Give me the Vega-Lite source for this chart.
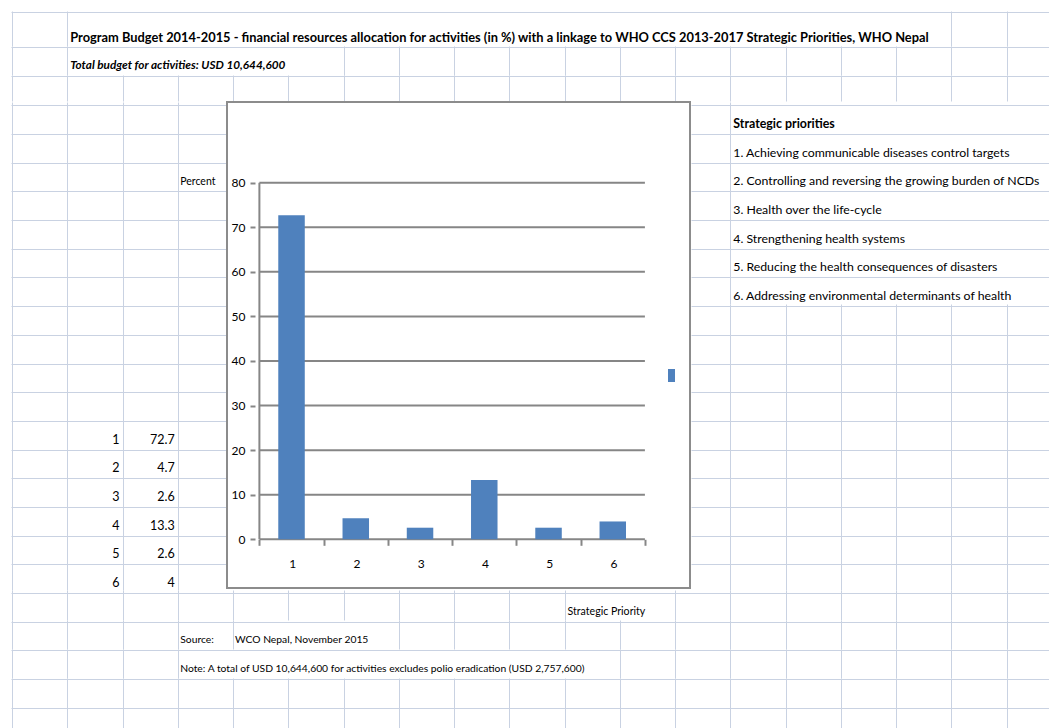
{
  "$schema": "https://vega.github.io/schema/vega-lite/v6.json",
  "background": "#ffffff",
  "padding": {"left": 11, "top": 11, "right": 0, "bottom": 0},
  "spacing": 0,
  "datasets": {
    "sp": [
      {"priority": 1, "percent": 72.7, "label": "1. Achieving communicable diseases control targets"},
      {"priority": 2, "percent": 4.7, "label": "2. Controlling and reversing the growing burden of NCDs"},
      {"priority": 3, "percent": 2.6, "label": "3. Health over the life-cycle"},
      {"priority": 4, "percent": 13.3, "label": "4. Strengthening health systems"},
      {"priority": 5, "percent": 2.6, "label": "5. Reducing the health consequences of disasters"},
      {"priority": 6, "percent": 4, "label": "6. Addressing environmental determinants of health"}
    ],
    "pctGrid": [{"v": 0}, {"v": 10}, {"v": 20}, {"v": 30}, {"v": 40}, {"v": 50}, {"v": 60}, {"v": 70}, {"v": 80}]
  },
  "vconcat": [
    {
      "width": 1038, "height": 35,
      "data": {"values": [{"t": "Program Budget 2014-2015 - financial resources allocation for activities (in %)  with a linkage to WHO CCS 2013-2017 Strategic Priorities, WHO Nepal"}]},
      "mark": {"type": "text", "align": "left", "baseline": "alphabetic", "dx": 3, "dy": -5.5, "fontWeight": "bold", "fontSize": 12.85},
      "encoding": {
        "x": {"datum": 1, "type": "quantitative", "scale": {"domain": [-0.0181, 18.7692], "nice": false, "zero": false}, "axis": {"values": [0, 1, 17, 18], "title": null, "grid": true, "labels": false, "ticks": false, "domain": false}},
        "y": {"datum": -2, "type": "quantitative", "scale": {"domain": [-3.2566, -2.0363], "nice": false, "zero": false, "reverse": true}, "axis": {"values": [-3.2218], "title": null, "grid": true, "labels": false, "ticks": false, "domain": false}},
        "text": {"field": "t", "type": "nominal"}
      }
    },
    {
      "width": 1038, "height": 29,
      "data": {"values": [{"t": "Total budget for activities: USD 10,644,600"}]},
      "mark": {"type": "text", "align": "left", "baseline": "alphabetic", "dx": 3, "dy": -6.5, "fontWeight": "bold", "fontStyle": "italic", "fontSize": 11.75},
      "encoding": {
        "x": {"datum": 1, "type": "quantitative", "scale": {"domain": [-0.0181, 18.7692], "nice": false, "zero": false}, "axis": {"values": [0, 1, 6, 7, 8, 9, 10, 11, 12, 13, 14, 15, 16, 17, 18], "title": null, "grid": true, "labels": false, "ticks": false, "domain": false}},
        "y": {"datum": -1, "type": "quantitative", "scale": {"domain": [-2.0363, -1.0251], "nice": false, "zero": false, "reverse": true}, "axis": {"values": [-2], "title": null, "grid": true, "labels": false, "ticks": false, "domain": false}},
        "text": {"field": "t", "type": "nominal"}
      }
    },
    {
      "width": 1038, "height": 26,
      "data": {"values": []},
      "mark": "point",
      "encoding": {
        "x": {"field": "a", "type": "quantitative", "scale": {"domain": [-0.0181, 18.7692], "nice": false, "zero": false}, "axis": {"values": [0, 1, 2, 3, 4, 5, 6, 7, 8, 9, 10, 11, 12, 13, 14, 15, 16, 17, 18], "title": null, "grid": true, "labels": false, "ticks": false, "domain": false}},
        "y": {"field": "b", "type": "quantitative", "scale": {"domain": [-1.0251, -0.1185], "nice": false, "zero": false, "reverse": true}, "axis": {"values": [-1], "title": null, "grid": true, "labels": false, "ticks": false, "domain": false}}
      }
    },
    {
      "spacing": 0,
      "hconcat": [
        {
          "width": 215, "height": 488,
          "layer": [
            {
              "data": {"name": "sp"},
              "mark": {"type": "text", "align": "right", "baseline": "alphabetic", "dx": -3, "dy": -6, "fontSize": 12.5},
              "encoding": {
                "x": {"datum": 2, "type": "quantitative", "scale": {"domain": [-0.0181, 3.8733], "nice": false, "zero": false}, "axis": {"values": [0, 1, 2, 3], "title": null, "grid": true, "labels": false, "ticks": false, "domain": false}},
                "y": {"field": "priority", "type": "quantitative", "scale": {"domain": [-11.1185, 5.8968], "nice": false, "zero": false, "reverse": true}, "axis": {"values": [-11, -10, -9, -8, -7, -6, -5, -4, -3, -2, -1, 0, 1, 2, 3, 4, 5], "title": null, "grid": true, "labels": false, "ticks": false, "domain": false}},
                "text": {"field": "priority", "type": "nominal"}
              }
            },
            {
              "data": {"name": "sp"},
              "mark": {"type": "text", "align": "right", "baseline": "alphabetic", "dx": -3, "dy": -6, "fontSize": 12.5},
              "encoding": {
                "x": {"datum": 3, "type": "quantitative", "scale": {"domain": [-0.0181, 3.8733], "nice": false, "zero": false}, "axis": {"values": [0, 1, 2, 3], "title": null, "grid": true, "labels": false, "ticks": false, "domain": false}},
                "y": {"field": "priority", "type": "quantitative", "scale": {"domain": [-11.1185, 5.8968], "nice": false, "zero": false, "reverse": true}, "axis": {"values": [-11, -10, -9, -8, -7, -6, -5, -4, -3, -2, -1, 0, 1, 2, 3, 4, 5], "title": null, "grid": true, "labels": false, "ticks": false, "domain": false}},
                "text": {"field": "percent", "type": "nominal"}
              }
            },
            {
              "data": {"values": [{"t": "Percent"}]},
              "mark": {"type": "text", "align": "left", "baseline": "alphabetic", "dx": 2.5, "dy": -6, "fontSize": 10.5},
              "encoding": {
                "x": {"datum": 3, "type": "quantitative", "scale": {"domain": [-0.0181, 3.8733], "nice": false, "zero": false}, "axis": {"values": [0, 1, 2, 3], "title": null, "grid": true, "labels": false, "ticks": false, "domain": false}},
                "y": {"datum": -8, "type": "quantitative", "scale": {"domain": [-11.1185, 5.8968], "nice": false, "zero": false, "reverse": true}, "axis": {"values": [-11, -10, -9, -8, -7, -6, -5, -4, -3, -2, -1, 0, 1, 2, 3, 4, 5], "title": null, "grid": true, "labels": false, "ticks": false, "domain": false}},
                "text": {"field": "t", "type": "nominal"}
              }
            }
          ]
        },
        {
          "width": 463, "height": 486,
          "view": {"stroke": "#8c8c8c", "strokeWidth": 2, "fill": "#ffffff"},
          "layer": [
            {
              "data": {"name": "pctGrid"},
              "mark": {"type": "rule", "color": "#868686", "strokeWidth": 2},
              "encoding": {
                "y": {"field": "v", "type": "quantitative", "scale": {"domain": [-10.925, 98.1], "nice": false, "zero": false},
                  "axis": {"orient": "left", "offset": -28, "values": [0, 10, 20, 30, 40, 50, 60, 70, 80], "grid": false, "domain": false, "ticks": true, "tickSize": 5, "tickColor": "#868686", "tickWidth": 2, "labels": true, "labelPadding": 5, "labelFontSize": 12, "labelColor": "#000000", "labelFlush": false, "labelOverlap": false, "title": null}},
                "x": {"datum": 0.5, "type": "quantitative", "scale": {"domain": [0.07362, 7.124], "nice": false, "zero": false},
                  "axis": {"orient": "bottom", "offset": -48.7, "values": [0.5, 1.5, 2.5, 3.5, 4.5, 5.5, 6.5], "grid": false, "domain": false, "ticks": true, "tickSize": 6, "tickColor": "#868686", "tickWidth": 2, "labels": true, "labelExpr": "datum.value < 6 ? format(datum.value + 0.5, 'd') : ''", "labelOffset": 32.8, "labelPadding": 13, "labelFontSize": 12, "labelColor": "#000000", "labelFlush": false, "labelOverlap": false, "title": null}},
                "x2": {"datum": 6.5}
              }
            },
            {
              "data": {"values": [{}]},
              "mark": {"type": "rule", "color": "#868686", "strokeWidth": 2},
              "encoding": {
                "x": {"datum": 0.5, "type": "quantitative", "scale": {"domain": [0.07362, 7.124], "nice": false, "zero": false},
                  "axis": {"orient": "bottom", "offset": -48.7, "values": [0.5, 1.5, 2.5, 3.5, 4.5, 5.5, 6.5], "grid": false, "domain": false, "ticks": true, "tickSize": 6, "tickColor": "#868686", "tickWidth": 2, "labels": true, "labelExpr": "datum.value < 6 ? format(datum.value + 0.5, 'd') : ''", "labelOffset": 32.8, "labelPadding": 13, "labelFontSize": 12, "labelColor": "#000000", "labelFlush": false, "labelOverlap": false, "title": null}},
                "y": {"datum": 0, "type": "quantitative", "scale": {"domain": [-10.925, 98.1], "nice": false, "zero": false},
                  "axis": {"orient": "left", "offset": -28, "values": [0, 10, 20, 30, 40, 50, 60, 70, 80], "grid": false, "domain": false, "ticks": true, "tickSize": 5, "tickColor": "#868686", "tickWidth": 2, "labels": true, "labelPadding": 5, "labelFontSize": 12, "labelColor": "#000000", "labelFlush": false, "labelOverlap": false, "title": null}},
                "y2": {"datum": 80}
              }
            },
            {
              "data": {"name": "sp"},
              "mark": {"type": "bar", "size": 26.5},
              "encoding": {
                "x": {"field": "priority", "type": "quantitative", "scale": {"domain": [0.07362, 7.124], "nice": false, "zero": false},
                  "axis": {"orient": "bottom", "offset": -48.7, "values": [0.5, 1.5, 2.5, 3.5, 4.5, 5.5, 6.5], "grid": false, "domain": false, "ticks": true, "tickSize": 6, "tickColor": "#868686", "tickWidth": 2, "labels": true, "labelExpr": "datum.value < 6 ? format(datum.value + 0.5, 'd') : ''", "labelOffset": 32.8, "labelPadding": 13, "labelFontSize": 12, "labelColor": "#000000", "labelFlush": false, "labelOverlap": false, "title": null}},
                "y": {"field": "percent", "type": "quantitative", "scale": {"domain": [-10.925, 98.1], "nice": false, "zero": false},
                  "axis": {"orient": "left", "offset": -28, "values": [0, 10, 20, 30, 40, 50, 60, 70, 80], "grid": false, "domain": false, "ticks": true, "tickSize": 5, "tickColor": "#868686", "tickWidth": 2, "labels": true, "labelPadding": 5, "labelFontSize": 12, "labelColor": "#000000", "labelFlush": false, "labelOverlap": false, "title": null}},
                "color": {"datum": " ", "scale": {"range": ["#4f81bd"]},
                  "legend": {"orient": "none", "legendX": 654, "legendY": 358, "title": null, "padding": 0, "symbolType": "M-0.54,-1H0.54V1H-0.54Z", "symbolSize": 169, "symbolStrokeWidth": 0, "labelExpr": "''"}}
              }
            }
          ]
        },
        {
          "spacing": 0,
          "vconcat": [
            {
              "width": 358, "height": 202,
              "layer": [
                {
                  "data": {"values": [{"t": "Strategic priorities"}]},
                  "mark": {"type": "text", "align": "left", "baseline": "alphabetic", "dx": 3, "dy": -6.5, "fontWeight": "bold", "fontSize": 12.4},
                  "encoding": {
                    "x": {"datum": 13, "type": "quantitative", "scale": {"domain": [12.2896, 18.7692], "nice": false, "zero": false}, "axis": {"values": [13], "title": null, "grid": true, "labels": false, "ticks": false, "domain": false}},
                    "y": {"datum": 0, "type": "quantitative", "scale": {"domain": [-1.1185, 5.9247], "nice": false, "zero": false, "reverse": true}, "axis": {"values": [-1, 0, 1, 2, 3, 4, 5], "title": null, "grid": true, "labels": false, "ticks": false, "domain": false}},
                    "text": {"field": "t", "type": "nominal"}
                  }
                },
                {
                  "data": {"name": "sp"},
                  "mark": {"type": "text", "align": "left", "baseline": "alphabetic", "dx": 3, "dy": -6, "fontSize": 12.3},
                  "encoding": {
                    "x": {"datum": 13, "type": "quantitative", "scale": {"domain": [12.2896, 18.7692], "nice": false, "zero": false}, "axis": {"values": [13], "title": null, "grid": true, "labels": false, "ticks": false, "domain": false}},
                    "y": {"field": "priority", "type": "quantitative", "scale": {"domain": [-1.1185, 5.9247], "nice": false, "zero": false, "reverse": true}, "axis": {"values": [-1, 0, 1, 2, 3, 4, 5], "title": null, "grid": true, "labels": false, "ticks": false, "domain": false}},
                    "text": {"field": "label", "type": "nominal"}
                  }
                }
              ]
            },
            {
              "width": 358, "height": 286,
              "data": {"values": []},
              "mark": "point",
              "encoding": {
                "x": {"field": "a", "type": "quantitative", "scale": {"domain": [12.2896, 18.7692], "nice": false, "zero": false}, "axis": {"values": [13, 14, 15, 16, 17, 18], "title": null, "grid": true, "labels": false, "ticks": false, "domain": false}},
                "y": {"field": "b", "type": "quantitative", "scale": {"domain": [6.9247, 16.8968], "nice": false, "zero": false, "reverse": true}, "axis": {"values": [7, 8, 9, 10, 11, 12, 13, 14, 15, 16], "title": null, "grid": true, "labels": false, "ticks": false, "domain": false}}
              }
            }
          ]
        }
      ]
    },
    {
      "width": 1038, "height": 30,
      "data": {"values": [{"t": "Strategic Priority"}]},
      "mark": {"type": "text", "align": "left", "baseline": "alphabetic", "dx": 3, "dy": -6.5, "fontSize": 10.6},
      "encoding": {
        "x": {"datum": 10, "type": "quantitative", "scale": {"domain": [-0.0181, 18.7692], "nice": false, "zero": false}, "axis": {"values": [0, 1, 2, 3, 4, 5, 6, 7, 8, 9, 10, 12, 13, 14, 15, 16, 17, 18], "title": null, "grid": true, "labels": false, "ticks": false, "domain": false}},
        "y": {"datum": 18, "type": "quantitative", "scale": {"domain": [16.8968, 17.9428], "nice": false, "zero": false, "reverse": true}, "axis": {"values": [17], "title": null, "grid": true, "labels": false, "ticks": false, "domain": false}},
        "text": {"field": "t", "type": "nominal"}
      }
    },
    {
      "width": 1038, "height": 29,
      "layer": [
        {
          "data": {"values": [{"t": "Source:"}]},
          "mark": {"type": "text", "align": "left", "baseline": "alphabetic", "dx": 2.5, "dy": -7, "fontSize": 10.3},
          "encoding": {
            "x": {"datum": 3, "type": "quantitative", "scale": {"domain": [-0.0181, 18.7692], "nice": false, "zero": false}, "axis": {"values": [0, 1, 2, 3, 4, 7, 8, 9, 10, 11, 12, 13, 14, 15, 16, 17, 18], "title": null, "grid": true, "labels": false, "ticks": false, "domain": false}},
            "y": {"datum": 19, "type": "quantitative", "scale": {"domain": [17.9428, 18.954], "nice": false, "zero": false, "reverse": true}, "axis": {"values": [18], "title": null, "grid": true, "labels": false, "ticks": false, "domain": false}},
            "text": {"field": "t", "type": "nominal"}
          }
        },
        {
          "data": {"values": [{"t": "WCO Nepal, November 2015"}]},
          "mark": {"type": "text", "align": "left", "baseline": "alphabetic", "dx": 2, "dy": -7, "fontSize": 10.3},
          "encoding": {
            "x": {"datum": 4, "type": "quantitative", "scale": {"domain": [-0.0181, 18.7692], "nice": false, "zero": false}, "axis": {"values": [0, 1, 2, 3, 4, 7, 8, 9, 10, 11, 12, 13, 14, 15, 16, 17, 18], "title": null, "grid": true, "labels": false, "ticks": false, "domain": false}},
            "y": {"datum": 19, "type": "quantitative", "scale": {"domain": [17.9428, 18.954], "nice": false, "zero": false, "reverse": true}, "axis": {"values": [18], "title": null, "grid": true, "labels": false, "ticks": false, "domain": false}},
            "text": {"field": "t", "type": "nominal"}
          }
        }
      ]
    },
    {
      "width": 1038, "height": 29,
      "data": {"values": [{"t": "Note: A total of USD 10,644,600 for activities excludes polio eradication (USD 2,757,600)"}]},
      "mark": {"type": "text", "align": "left", "baseline": "alphabetic", "dx": 2.5, "dy": -7, "fontSize": 10.3},
      "encoding": {
        "x": {"datum": 3, "type": "quantitative", "scale": {"domain": [-0.0181, 18.7692], "nice": false, "zero": false}, "axis": {"values": [0, 1, 2, 3, 11, 12, 13, 14, 15, 16, 17, 18], "title": null, "grid": true, "labels": false, "ticks": false, "domain": false}},
        "y": {"datum": 20, "type": "quantitative", "scale": {"domain": [18.954, 19.9651], "nice": false, "zero": false, "reverse": true}, "axis": {"values": [19], "title": null, "grid": true, "labels": false, "ticks": false, "domain": false}},
        "text": {"field": "t", "type": "nominal"}
      }
    },
    {
      "width": 1038, "height": 51,
      "data": {"values": []},
      "mark": "point",
      "encoding": {
        "x": {"field": "a", "type": "quantitative", "scale": {"domain": [-0.0181, 18.7692], "nice": false, "zero": false}, "axis": {"values": [0, 1, 2, 3, 4, 5, 6, 7, 8, 9, 10, 11, 12, 13, 14, 15, 16, 17, 18], "title": null, "grid": true, "labels": false, "ticks": false, "domain": false}},
        "y": {"field": "b", "type": "quantitative", "scale": {"domain": [19.9651, 21.7434], "nice": false, "zero": false, "reverse": true}, "axis": {"values": [20, 21], "title": null, "grid": true, "labels": false, "ticks": false, "domain": false}}
      }
    }
  ],
  "config": {
    "font": "Lato, Liberation Sans, sans-serif",
    "view": {"stroke": null},
    "axis": {"gridColor": "#c9d2e2", "gridWidth": 1, "labelFont": "Lato"},
    "text": {"color": "#000000"}
  }
}
